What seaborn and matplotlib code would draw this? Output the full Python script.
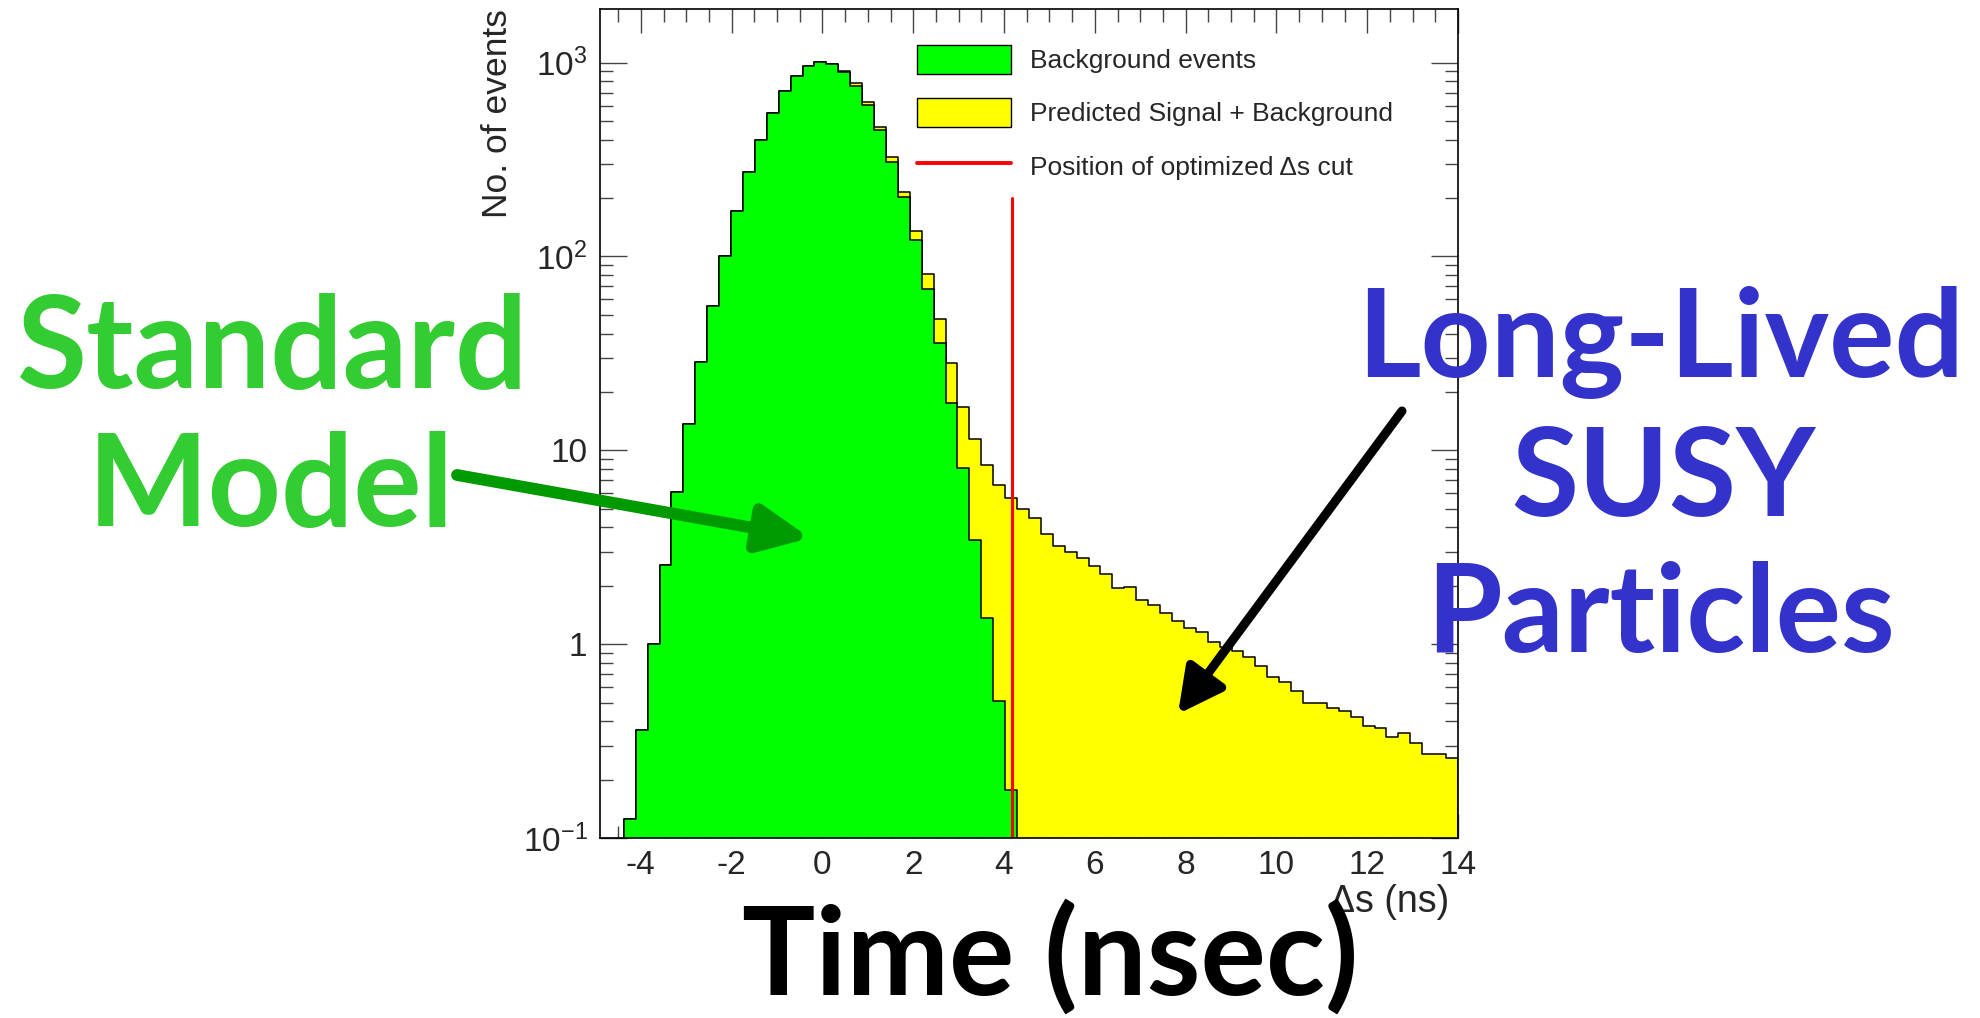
import numpy as np
import matplotlib
matplotlib.use("Agg")
import matplotlib.pyplot as plt
import seaborn as sns
from matplotlib.lines import Line2D
from matplotlib.patches import Patch
from matplotlib.ticker import MultipleLocator, LogLocator, FixedLocator, NullFormatter

# Histogram binning used by the original plot (delta s in ns)
x_lo, x_hi, n_bins = -4.9, 14.0, 72

# Background events per bin
background = [0, 0, 0.125, 0.36, 1.0, 2.56, 6.1, 13.6, 28.4, 55.5,
              100, 171, 272, 400, 551, 710, 852, 960, 1009, 986,
              897, 757, 601, 449, 308, 202, 122, 68, 35.9, 17.6,
              8.07, 3.44, 1.36, 0.51, 0.177, 0, 0, 0, 0, 0,
              0, 0, 0, 0, 0, 0, 0, 0, 0, 0,
              0, 0, 0, 0, 0, 0, 0, 0, 0, 0,
              0, 0, 0, 0, 0, 0, 0, 0, 0, 0,
              0, 0]

# Predicted signal + background per bin
sig_plus_bkg = [0, 0, 0.125, 0.36, 1.0, 2.56, 6.1, 13.6, 28.4, 55.5,
                100, 171, 272, 400, 551, 710, 852, 960, 1009, 988,
                905, 781, 626, 464, 326, 216, 135, 81, 47.4, 28.1,
                16.8, 11.4, 8.4, 6.6, 5.65, 4.98, 4.45, 3.70, 3.21, 3.00,
                2.79, 2.53, 2.30, 1.95, 1.96, 1.69, 1.59, 1.45, 1.32, 1.21,
                1.15, 1.03, 0.97, 0.92, 0.86, 0.77, 0.68, 0.64, 0.57, 0.50,
                0.50, 0.47, 0.45, 0.42, 0.38, 0.37, 0.33, 0.35, 0.31, 0.27,
                0.27, 0.26]

# Optimized delta s cut
cut_pos = 4.17
cut_top = 200

y_ticks = [0.1, 1, 10, 100, 1000]
y_ticklabels = [r'$10^{-1}$', '1', '10', r'$10^{2}$', r'$10^{3}$']
legend_labels = ['Background events', 'Predicted Signal + Background',
                 'Position of optimized \u0394s cut']

edges = list(np.linspace(x_lo, x_hi, n_bins + 1))
centers = [(a + b) / 2 for a, b in zip(edges[:-1], edges[1:])]

sns.set_style('ticks')
plt.rcParams['font.family'] = ['Liberation Sans', 'DejaVu Sans']
plt.rcParams['mathtext.fontset'] = 'custom'
plt.rcParams['mathtext.rm'] = 'Liberation Sans'
plt.rcParams['mathtext.it'] = 'Liberation Sans:italic'
plt.rcParams['axes.unicode_minus'] = False

W, H = 1981, 1018
fig = plt.figure(figsize=(W / 100, H / 100), dpi=100)
fig.patch.set_facecolor('white')
ax = fig.add_axes([600 / W, 1 - 838 / H, 858 / W, 829 / H])

sns.histplot(x=centers, weights=sig_plus_bkg, bins=edges, element='step',
             fill=True, color='#ffff00', alpha=1, edgecolor='black',
             linewidth=1.1, ax=ax)
sns.histplot(x=centers, weights=background, bins=edges, element='step',
             fill=True, color='#00ff00', alpha=1, edgecolor='black',
             linewidth=1.1, ax=ax)
ax.plot([cut_pos, cut_pos], [y_ticks[0], cut_top], color='red', lw=2.2)

ax.set_yscale('log')
ax.set_xlim(x_lo, x_hi)
ax.set_ylim(0.1, 1890)

ax.xaxis.set_major_locator(MultipleLocator(2))
ax.xaxis.set_minor_locator(MultipleLocator(0.5))
ax.yaxis.set_major_locator(FixedLocator(y_ticks))
ax.set_yticklabels(y_ticklabels)
ax.yaxis.set_minor_locator(LogLocator(base=10, subs=np.arange(2, 10), numticks=20))
ax.yaxis.set_minor_formatter(NullFormatter())

ax.tick_params(which='both', direction='in', top=True, right=True,
               color='#444444', width=1.0, labelsize=24, pad=9)
ax.tick_params(axis='y', which='major', length=19.5)
ax.tick_params(axis='y', which='minor', length=9.5)
ax.tick_params(axis='x', which='major', length=17)
ax.tick_params(axis='x', which='minor', length=9)
for s in ax.spines.values():
    s.set_linewidth(1.2)
    s.set_color('black')

ax.set_xlabel('\u0394s (ns)', fontsize=27, loc='right')
ax.xaxis.set_label_coords(0.9895, -0.055)
ax.set_ylabel('No. of events', fontsize=25.5, loc='top')
ax.yaxis.set_label_coords(-0.119, 1.0)
ax.yaxis.label.set_va('center')

handles = [Patch(facecolor='#00ff00', edgecolor='black', lw=1),
           Patch(facecolor='#ffff00', edgecolor='black', lw=1),
           Line2D([], [], color='red', lw=2.8)]
ax.legend(handles, legend_labels, loc='upper left',
          bbox_to_anchor=(917 / W, 1 - 45 / H), bbox_transform=fig.transFigure,
          frameon=False, fontsize=19, handlelength=3.56, handleheight=1.33,
          handletextpad=0.72, labelspacing=0.9, borderpad=0, borderaxespad=0)

# hand-written style annotations around the plot
note_font = dict(family=['Lato', 'DejaVu Sans'], weight='bold', fontsize=88,
                 ha='center', va='baseline')
fig.text(272 / W, 1 - 388 / H, 'Standard', color='#33cc33',
         **{**note_font, 'fontsize': 92})
fig.text(271 / W, 1 - 526 / H, 'Model', color='#33cc33',
         **{**note_font, 'fontsize': 92})
fig.text(1661 / W, 1 - 377 / H, 'Long-Lived', color='#3333cc', **note_font)
fig.text(1663 / W, 1 - 516 / H, 'SUSY', color='#3333cc', **note_font)
fig.text(1661 / W, 1 - 652 / H, 'Particles', color='#3333cc', **note_font)
fig.text(1050 / W, 1 - 995 / H, 'Time (nsec)', color='black', **note_font)

ax.annotate('', xy=(810 / W, 1 - 538 / H), xytext=(457 / W, 1 - 475 / H),
            xycoords='figure fraction', textcoords='figure fraction',
            annotation_clip=False,
            arrowprops=dict(arrowstyle='-|>,head_length=30,head_width=14',
                            mutation_scale=1, lw=8.5, color='#009900',
                            shrinkA=0, shrinkB=0))
ax.annotate('', xy=(1178 / W, 1 - 714 / H), xytext=(1402 / W, 1 - 411 / H),
            xycoords='figure fraction', textcoords='figure fraction',
            annotation_clip=False,
            arrowprops=dict(arrowstyle='-|>,head_length=27,head_width=14',
                            mutation_scale=1, lw=6.5, color='black',
                            shrinkA=0, shrinkB=0))

fig.savefig('out.png', dpi=100, facecolor='white')
